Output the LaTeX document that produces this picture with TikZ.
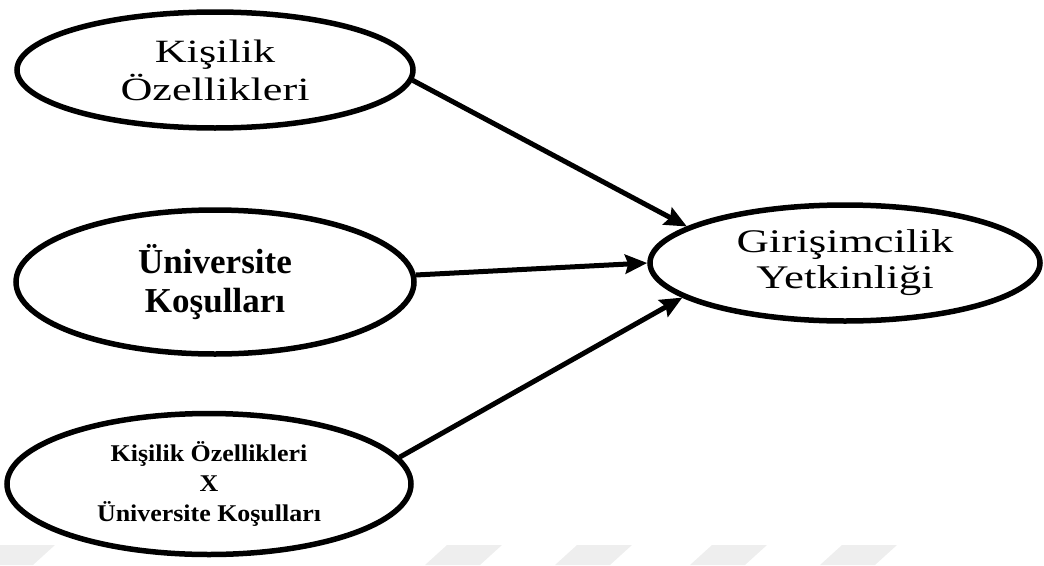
\documentclass[tikz,border=0pt]{standalone}
\usepackage{fontspec}
\setmainfont{Liberation Serif}
\newfontfamily\widerm{Liberation Serif}[FakeStretch=1.36]
\newfontfamily\widebf{Liberation Serif}[FakeStretch=1.08]
\usetikzlibrary{shapes.geometric,arrows.meta}
\definecolor{wmark}{gray}{0.935}
\begin{document}
\begin{tikzpicture}[x=1pt,y=-1pt,
  oval/.style={ellipse,draw=black,line width=5.5pt,fill=white,inner sep=0pt,align=center},
  path/.style={draw=black,line width=5pt,-{Stealth[length=22pt,width=19pt,inset=3pt]}},
  wm/.style={fill=wmark,draw=none}]
\useasboundingbox (0,0) rectangle (1044,565);
% faint watermark shapes
\foreach \x in {0,447,577,712,842}
  \path[wm] (\x,545) -- (\x+55,545) -- (\x+33,565) -- (\x-22,565) -- cycle;
% nodes
\node[oval,minimum width=396pt,minimum height=116pt,
      font={\widerm\fontsize{32.5}{38}\selectfont}] (kisilik) at (215,70) {Kişilik\\Özellikleri};
\node[oval,minimum width=398pt,minimum height=144pt,
      font={\bfseries\fontsize{35}{39}\selectfont}] (univ) at (215,282) {Üniversite\\Koşulları};
\node[oval,minimum width=404pt,minimum height=141pt,
      font={\widebf\bfseries\fontsize{24}{30}\selectfont}] (etkilesim) at (209,484)
      {Kişilik Özellikleri\\X\\Üniversite Koşulları};
\node[oval,minimum width=390pt,minimum height=116pt,
      font={\widerm\fontsize{33}{36}\selectfont}] (girisim) at (845,263) {Girişimcilik\\Yetkinliği};
% connectors
\draw[path] (kisilik.-3) -- (girisim.167);
\draw[path] (univ.2) -- (girisim.180);
\draw[path] (etkilesim.8) -- (girisim.192);
\end{tikzpicture}
\end{document}
